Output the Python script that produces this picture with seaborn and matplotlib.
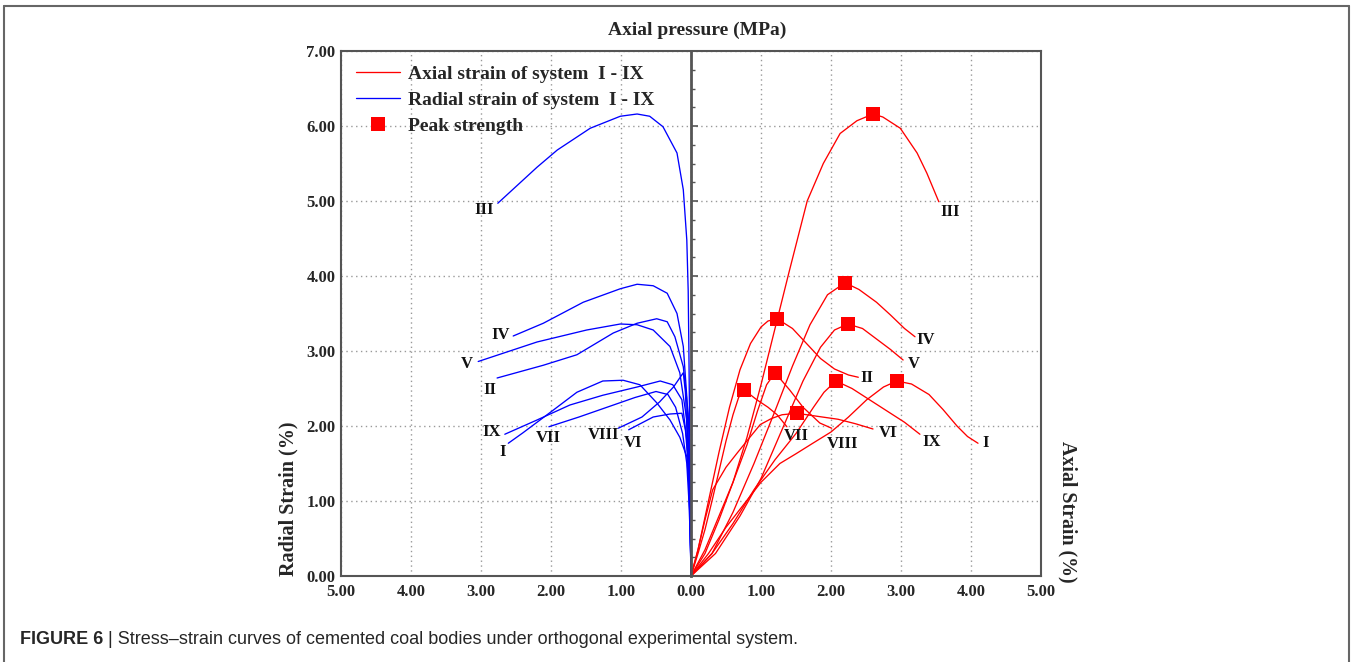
import numpy as np
import pandas as pd
import seaborn as sns
import matplotlib.pyplot as plt
from matplotlib.lines import Line2D
from matplotlib.ticker import MultipleLocator, FuncFormatter

# ---- data (strain in %, pressure in MPa) ----
systems = ["I", "II", "III", "IV", "V", "VI", "VII", "VIII", "IX"]

# axial strain (right half)
axial_x = {
    "I":    [0, 0.25, 0.5, 0.75, 1.0, 1.27, 1.5, 1.74, 2.0, 2.25, 2.51, 2.75, 2.94, 3.15, 3.4, 3.6, 3.8, 3.95, 4.1],
    "II":   [0, 0.1, 0.25, 0.4, 0.55, 0.7, 0.85, 1.0, 1.1, 1.23, 1.45, 1.65, 1.85, 2.05, 2.25, 2.39],
    "III":  [0, 0.2, 0.4, 0.6, 0.8, 1.0, 1.2, 1.4, 1.66, 1.89, 2.13, 2.37, 2.6, 2.74, 2.99, 3.23, 3.37, 3.54],
    "IV":   [0, 0.3, 0.6, 0.9, 1.2, 1.45, 1.7, 1.95, 2.2, 2.4, 2.65, 2.85, 3.05, 3.2],
    "V":    [0, 0.35, 0.7, 1.0, 1.3, 1.6, 1.85, 2.05, 2.24, 2.45, 2.65, 2.85, 3.03],
    "VI":   [0, 0.1, 0.2, 0.31, 0.5, 0.66, 0.85, 0.99, 1.15, 1.3, 1.51, 1.8, 2.1, 2.35, 2.6],
    "VII":  [0, 0.1, 0.2, 0.3, 0.4, 0.5, 0.6, 0.68, 0.76, 0.94, 1.1, 1.23, 1.37],
    "VIII": [0, 0.2, 0.4, 0.6, 0.8, 0.95, 1.08, 1.2, 1.41, 1.6, 1.84, 2.01],
    "IX":   [0, 0.3, 0.6, 0.9, 1.2, 1.5, 1.75, 1.9, 2.07, 2.3, 2.55, 2.8, 3.05, 3.27],
}
axial_y = {
    "I":    [0, 0.3, 0.65, 0.95, 1.25, 1.5, 1.63, 1.77, 1.92, 2.12, 2.35, 2.52, 2.6, 2.56, 2.42, 2.22, 2.0, 1.86, 1.77],
    "II":   [0, 0.35, 1.0, 1.65, 2.25, 2.75, 3.1, 3.32, 3.4, 3.43, 3.3, 3.1, 2.9, 2.76, 2.68, 2.65],
    "III":  [0, 0.3, 0.75, 1.25, 1.85, 2.55, 3.3, 4.05, 5.0, 5.5, 5.9, 6.07, 6.16, 6.12, 5.97, 5.64, 5.37, 4.99],
    "IV":   [0, 0.3, 0.85, 1.5, 2.2, 2.8, 3.35, 3.75, 3.91, 3.82, 3.65, 3.48, 3.3, 3.19],
    "V":    [0, 0.3, 0.8, 1.3, 1.95, 2.6, 3.05, 3.28, 3.36, 3.3, 3.16, 3.02, 2.88],
    "VI":   [0, 0.35, 0.75, 1.15, 1.45, 1.64, 1.86, 2.02, 2.1, 2.15, 2.17, 2.13, 2.09, 2.03, 1.96],
    "VII":  [0, 0.3, 0.62, 1.0, 1.4, 1.8, 2.15, 2.38, 2.48, 2.35, 2.25, 2.15, 1.99],
    "VIII": [0, 0.35, 0.8, 1.25, 1.75, 2.2, 2.55, 2.71, 2.48, 2.25, 2.04, 1.97],
    "IX":   [0, 0.3, 0.7, 1.15, 1.55, 1.9, 2.25, 2.45, 2.6, 2.5, 2.35, 2.2, 2.05, 1.89],
}

# radial strain (left half, magnitude)
radial_x = {
    "I":    [0, 0.01, 0.03, 0.06, 0.16, 0.3, 0.49, 0.73, 0.97, 1.26, 1.63, 1.97, 2.4, 2.61],
    "II":   [0, 0.01, 0.02, 0.04, 0.11, 0.23, 0.34, 0.49, 0.77, 1.11, 1.63, 2.11, 2.77],
    "III":  [0, 0.01, 0.02, 0.03, 0.04, 0.06, 0.11, 0.2, 0.4, 0.59, 0.77, 1.01, 1.44, 1.91, 2.2, 2.76],
    "IV":   [0, 0.01, 0.03, 0.06, 0.11, 0.2, 0.34, 0.54, 0.77, 1.01, 1.54, 2.11, 2.54],
    "V":    [0, 0.01, 0.03, 0.06, 0.16, 0.3, 0.54, 0.77, 1.01, 1.49, 2.2, 3.04],
    "VI":   [0, 0.01, 0.02, 0.04, 0.08, 0.13, 0.3, 0.54, 0.89],
    "VII":  [0, 0.01, 0.03, 0.06, 0.12, 0.22, 0.33, 0.5, 0.8, 1.2, 1.6, 2.03],
    "VIII": [0, 0.01, 0.03, 0.06, 0.08, 0.11, 0.25, 0.45, 0.7, 1.04],
    "IX":   [0, 0.01, 0.03, 0.06, 0.13, 0.26, 0.44, 0.77, 1.26, 1.73, 2.2, 2.66],
}
radial_y = {
    "I":    [0, 0.6, 1.2, 1.59, 1.85, 2.08, 2.31, 2.55, 2.61, 2.6, 2.45, 2.21, 1.91, 1.77],
    "II":   [0, 0.8, 1.6, 2.17, 2.79, 3.19, 3.39, 3.43, 3.37, 3.24, 2.95, 2.81, 2.64],
    "III":  [0, 1.0, 2.0, 3.0, 3.8, 4.48, 5.15, 5.64, 5.99, 6.13, 6.16, 6.13, 5.97, 5.68, 5.45, 4.97],
    "IV":   [0, 0.8, 1.6, 2.39, 3.06, 3.5, 3.77, 3.87, 3.89, 3.83, 3.65, 3.37, 3.2],
    "V":    [0, 0.7, 1.4, 2.08, 2.71, 3.06, 3.28, 3.35, 3.36, 3.28, 3.12, 2.86],
    "VI":   [0, 0.5, 1.0, 1.5, 1.95, 2.17, 2.16, 2.12, 1.95],
    "VII":  [0, 0.5, 1.0, 1.5, 1.9, 2.25, 2.42, 2.46, 2.38, 2.25, 2.12, 1.99],
    "VIII": [0, 0.6, 1.3, 2.0, 2.45, 2.71, 2.52, 2.32, 2.12, 1.97],
    "IX":   [0, 0.6, 1.2, 1.81, 2.35, 2.55, 2.6, 2.52, 2.41, 2.28, 2.08, 1.89],
}

rows = []
for s in systems:
    for x, y in zip(axial_x[s], axial_y[s]):
        rows.append(("axial", s, x, y))
    for x, y in zip(radial_x[s], radial_y[s]):
        rows.append(("radial", s, -x, y))
df = pd.DataFrame(rows, columns=["kind", "system", "x", "y"])
df["curve"] = df["kind"] + "-" + df["system"]

peaks = df[df.kind == "axial"].loc[lambda d: d.groupby("system")["y"].idxmax()]

# label offsets in pixels relative to curve end
lab_off = {
    ("axial", "I"): (8, 0), ("axial", "II"): (9, -1), ("axial", "III"): (11, -10),
    ("axial", "IV"): (11, -3), ("axial", "V"): (11, -4), ("axial", "VI"): (15, -4),
    ("axial", "VII"): (9, -9), ("axial", "VIII"): (11, -16), ("axial", "IX"): (12, -8),
    ("radial", "I"): (-6, -9), ("radial", "II"): (-7, -12), ("radial", "III"): (-14, -7),
    ("radial", "IV"): (-13, 1), ("radial", "V"): (-11, -3), ("radial", "VI"): (4, -13),
    ("radial", "VII"): (-1, -11), ("radial", "VIII"): (-15, -7), ("radial", "IX"): (-13, 2),
}

sns.set_theme(style="white")
plt.rcParams["font.family"] = ["Liberation Serif", "DejaVu Serif"]
plt.rcParams["font.weight"] = "bold"

fig = plt.figure(figsize=(13.52, 6.62), dpi=100)
ax = fig.add_axes([341 / 1352, 86 / 662, 700 / 1352, 525 / 662])

sns.lineplot(data=df, x="x", y="y", hue="kind", units="curve", estimator=None,
             sort=False, palette={"axial": "#ff0000", "radial": "#0000ff"},
             linewidth=0.95, legend=False, ax=ax)
sns.scatterplot(data=peaks, x="x", y="y", marker="s", color="#ff0000", s=105,
                edgecolor="none", zorder=5, legend=False, ax=ax)

for s in systems:
    for kind, xs, ys, sign in (("axial", axial_x, axial_y, 1), ("radial", radial_x, radial_y, -1)):
        dx, dy = lab_off[(kind, s)]
        ax.annotate(s, xy=(sign * xs[s][-1], ys[s][-1]), xytext=(dx, dy),
                    textcoords="offset pixels", ha="center", va="center",
                    fontsize=12, fontweight="bold", color="#111111")

ax.set_xlim(-5, 5)
ax.set_ylim(0, 7)
ax.set_xlabel("")
ax.set_ylabel("")
ax.xaxis.set_major_locator(MultipleLocator(1))
ax.xaxis.set_minor_locator(MultipleLocator(0.25))
ax.yaxis.set_major_locator(MultipleLocator(1))
ax.xaxis.set_major_formatter(FuncFormatter(lambda v, p: f"{abs(v):.2f}"))
ax.yaxis.set_major_formatter(FuncFormatter(lambda v, p: f"{v:.2f}"))
ax.tick_params(axis="x", which="major", direction="in", length=5, width=1.2,
               color="#555555", labelsize=12, pad=6)
ax.tick_params(axis="x", which="minor", direction="in", length=3, width=1.0, color="#555555")
ax.tick_params(axis="y", which="both", length=0, labelsize=12, pad=4)
for lab in ax.get_xticklabels() + ax.get_yticklabels():
    lab.set_fontweight("bold")
ax.grid(True, which="major", linestyle=(0, (1, 2.5)), color="#999999", linewidth=1.0)
for sp in ax.spines.values():
    sp.set_color("#555555")
    sp.set_linewidth(1.5)

# the pressure axis drawn down the middle
ax2 = ax.twinx()
ax2.set_ylim(0, 7)
ax2.spines["right"].set_position(("data", 0))
for name in ("left", "top", "bottom"):
    ax2.spines[name].set_visible(False)
ax2.spines["right"].set_color("#555555")
ax2.spines["right"].set_linewidth(2.0)
ax2.yaxis.set_major_locator(MultipleLocator(1))
ax2.yaxis.set_minor_locator(MultipleLocator(0.25))
ax2.tick_params(axis="y", which="major", direction="out", length=5, width=1.2,
                color="#555555", labelright=False)
ax2.tick_params(axis="y", which="minor", direction="out", length=3, width=1.0, color="#555555")
ax2.grid(False)

handles = [
    Line2D([], [], color="#ff0000", lw=0.95),
    Line2D([], [], color="#0000ff", lw=0.95),
    Line2D([], [], color="#ff0000", marker="s", markersize=10, lw=0, markeredgewidth=0),
]
ax2.legend(handles, ["Axial strain of system  I - IX", "Radial strain of system  I - IX",
                     "Peak strength"],
           loc="upper left", bbox_to_anchor=(0.0, 1.0), frameon=False,
           prop={"family": "Liberation Serif", "weight": "bold", "size": 14},
           handlelength=2.3, handletextpad=0.4, labelspacing=0.42, borderaxespad=0.35,
           borderpad=0.4)

fig.text(697 / 1352, 1 - 30 / 662, "Axial pressure (MPa)", ha="center", va="center",
         fontsize=14, fontweight="bold")
fig.text(288 / 1352, 1 - 499 / 662, "Radial Strain (%)", rotation=90, ha="center",
         va="center", fontsize=14.5, fontweight="bold")
fig.text(1068 / 1352, 1 - 512 / 662, "Axial Strain (%)", rotation=270, ha="center",
         va="center", fontsize=14.3, fontweight="bold")

# caption
cap1 = fig.text(20 / 1352, 1 - 640 / 662, "FIGURE 6", ha="left", va="center",
                fontsize=13, fontweight="bold", family="Liberation Sans")
ax.annotate(" | Stress\u2013strain curves of cemented coal bodies under orthogonal experimental system.",
            xy=(1, 0.5), xycoords=cap1, ha="left", va="center", fontsize=13,
            fontweight="normal", family="Liberation Sans", annotation_clip=False)

# outer frame
frame_kw = dict(color="#666666", lw=1.5, transform=fig.transFigure)
fig.add_artist(Line2D([4 / 1352, 1349 / 1352], [1 - 6 / 662, 1 - 6 / 662], **frame_kw))
fig.add_artist(Line2D([4 / 1352, 4 / 1352], [0, 1 - 6 / 662], **frame_kw))
fig.add_artist(Line2D([1349 / 1352, 1349 / 1352], [0, 1 - 6 / 662], **frame_kw))

fig.savefig("out.png", dpi=100)
